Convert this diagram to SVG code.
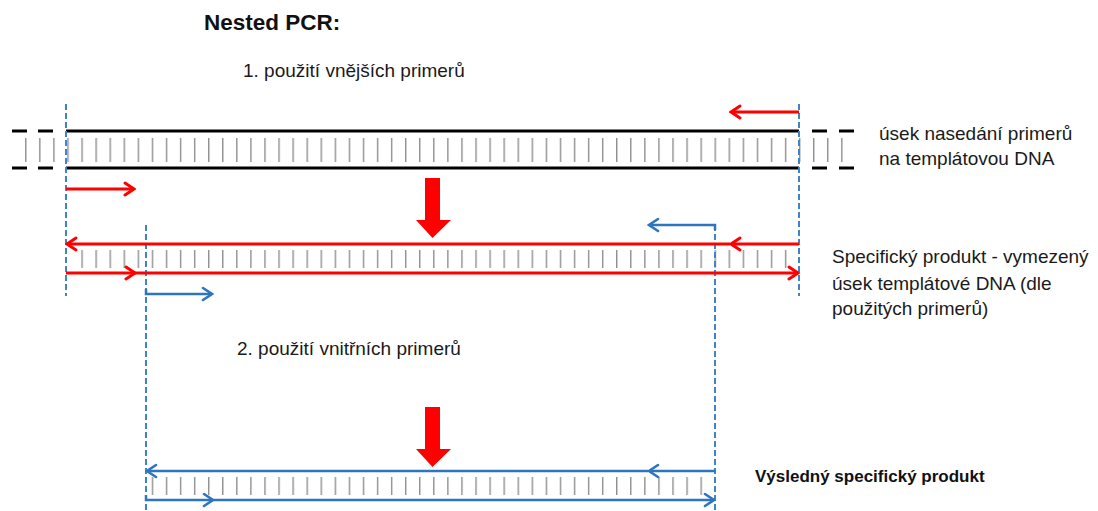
<svg xmlns="http://www.w3.org/2000/svg" width="1098" height="511" viewBox="0 0 1098 511">
  <style>
    .t { font-family: "Liberation Sans", Arial, sans-serif; font-size: 19px; fill: #1a1a1a; }
    .tb { font-family: "Liberation Sans", Arial, sans-serif; font-weight: bold; fill: #111; }
    .strand { stroke: #000; stroke-width: 3; fill: none; }
    .red { stroke: #ff0000; stroke-width: 3; fill: none; }
    .blue { stroke: #2e75c0; stroke-width: 2.5; fill: none; }
    .guide { stroke: #3d85c6; stroke-width: 2; stroke-dasharray: 6 3; fill: none; }
    .big { fill: #ff0000; }
  </style>
  <defs>
    <pattern id="rungs" patternUnits="userSpaceOnUse" x="67.3" y="0" width="14.07" height="60">
      <rect x="0" y="0" width="1.4" height="60" fill="#909090"/>
    </pattern>
    <marker id="headRed" markerUnits="userSpaceOnUse" viewBox="-12 -8 14 16" refX="0" refY="0" markerWidth="14" markerHeight="16" orient="auto">
      <path d="M-9,-6 L0,0 L-9,6" fill="none" stroke="#ff0000" stroke-width="3" stroke-linecap="round" stroke-linejoin="miter"/>
    </marker>
    <marker id="headBlue" markerUnits="userSpaceOnUse" viewBox="-12 -8 14 16" refX="0" refY="0" markerWidth="14" markerHeight="16" orient="auto">
      <path d="M-9,-6 L0,0 L-9,6" fill="none" stroke="#2e75c0" stroke-width="2.6" stroke-linecap="round" stroke-linejoin="miter"/>
    </marker>
  </defs>

  <rect width="1098" height="511" fill="#fff"/>

  <!-- titles and labels -->
  <g id="title">
    <text class="tb" x="204" y="30" font-size="22.5">Nested PCR:</text>
  </g>
  <g id="step1-label">
    <text class="t" x="243" y="77">1. použití vnějších primerů</text>
  </g>
  <g id="template-label">
    <text class="t" x="879" y="140">úsek nasedání primerů</text>
    <text class="t" x="879" y="165">na templátovou DNA</text>
  </g>
  <g id="product-label">
    <text class="t" x="832" y="263">Specifický produkt - vymezený</text>
    <text class="t" x="832" y="290">úsek templátové DNA (dle</text>
    <text class="t" x="832" y="315">použitých primerů)</text>
  </g>
  <g id="step2-label">
    <text class="t" x="237" y="355">2. použití vnitřních primerů</text>
  </g>
  <g id="final-label">
    <text class="tb" x="755" y="482" font-size="17">Výsledný specifický produkt</text>
  </g>

  <!-- template DNA double strand -->
  <g id="template-dna">
    <rect x="20" y="138" width="826" height="24" fill="url(#rungs)"/>
    <line class="strand" x1="66" y1="131" x2="799" y2="131"/>
    <line class="strand" x1="66" y1="168" x2="799" y2="168"/>
    <path class="strand" d="M12,131 H27 M38,131 H53 M12,168 H27 M38,168 H53"/>
    <path class="strand" d="M812,131 H827 M839,131 H854 M812,168 H827 M839,168 H854"/>
  </g>

  <!-- first PCR product -->
  <g id="outer-product">
    <rect x="75" y="250" width="721" height="18" fill="url(#rungs)"/>
  </g>

  <!-- final PCR product -->
  <g id="inner-product">
    <rect x="150" y="477" width="559" height="18" fill="url(#rungs)"/>
  </g>

  <!-- process arrows -->
  <g id="step-arrow-1">
    <path class="big" d="M425,178 H440 V220 H451 L432.5,238 L416,220 H425 Z"/>
  </g>
  <g id="step-arrow-2">
    <path class="big" d="M425,407 H440 V449 H451 L432.5,467 L416,449 H425 Z"/>
  </g>

  <!-- primers, strands and boundaries -->
  <g id="connectors">
    <line class="guide" x1="66" y1="104" x2="66" y2="296"/>
    <line class="guide" x1="799" y1="104" x2="799" y2="296"/>
    <line class="guide" x1="146" y1="225" x2="146" y2="511"/>
    <line class="guide" x1="715" y1="225" x2="715" y2="511"/>

    <!-- outer primers -->
    <line class="red" x1="799" y1="112" x2="731" y2="112" marker-end="url(#headRed)"/>
    <line class="red" x1="66" y1="189" x2="134" y2="189" marker-end="url(#headRed)"/>

    <!-- outer product strands -->
    <line class="red" x1="730" y1="244" x2="67" y2="244" marker-end="url(#headRed)"/>
    <line class="red" x1="799" y1="244" x2="731" y2="244" marker-end="url(#headRed)"/>
    <line class="red" x1="66" y1="273" x2="135" y2="273" marker-end="url(#headRed)"/>
    <line class="red" x1="135" y1="273" x2="798" y2="273" marker-end="url(#headRed)"/>

    <!-- inner primers -->
    <polyline class="blue" points="715,230 715,225 649,225" marker-end="url(#headBlue)"/>
    <polyline class="blue" points="146,289 146,294 212,294" marker-end="url(#headBlue)"/>

    <!-- inner product strands -->
    <line class="blue" x1="648" y1="471" x2="147" y2="471" marker-end="url(#headBlue)"/>
    <line class="blue" x1="715" y1="471" x2="649" y2="471" marker-end="url(#headBlue)"/>
    <polyline class="blue" points="146,495 146,500 213,500" marker-end="url(#headBlue)"/>
    <line class="blue" x1="213" y1="500" x2="714" y2="500" marker-end="url(#headBlue)"/>
  </g>
</svg>
